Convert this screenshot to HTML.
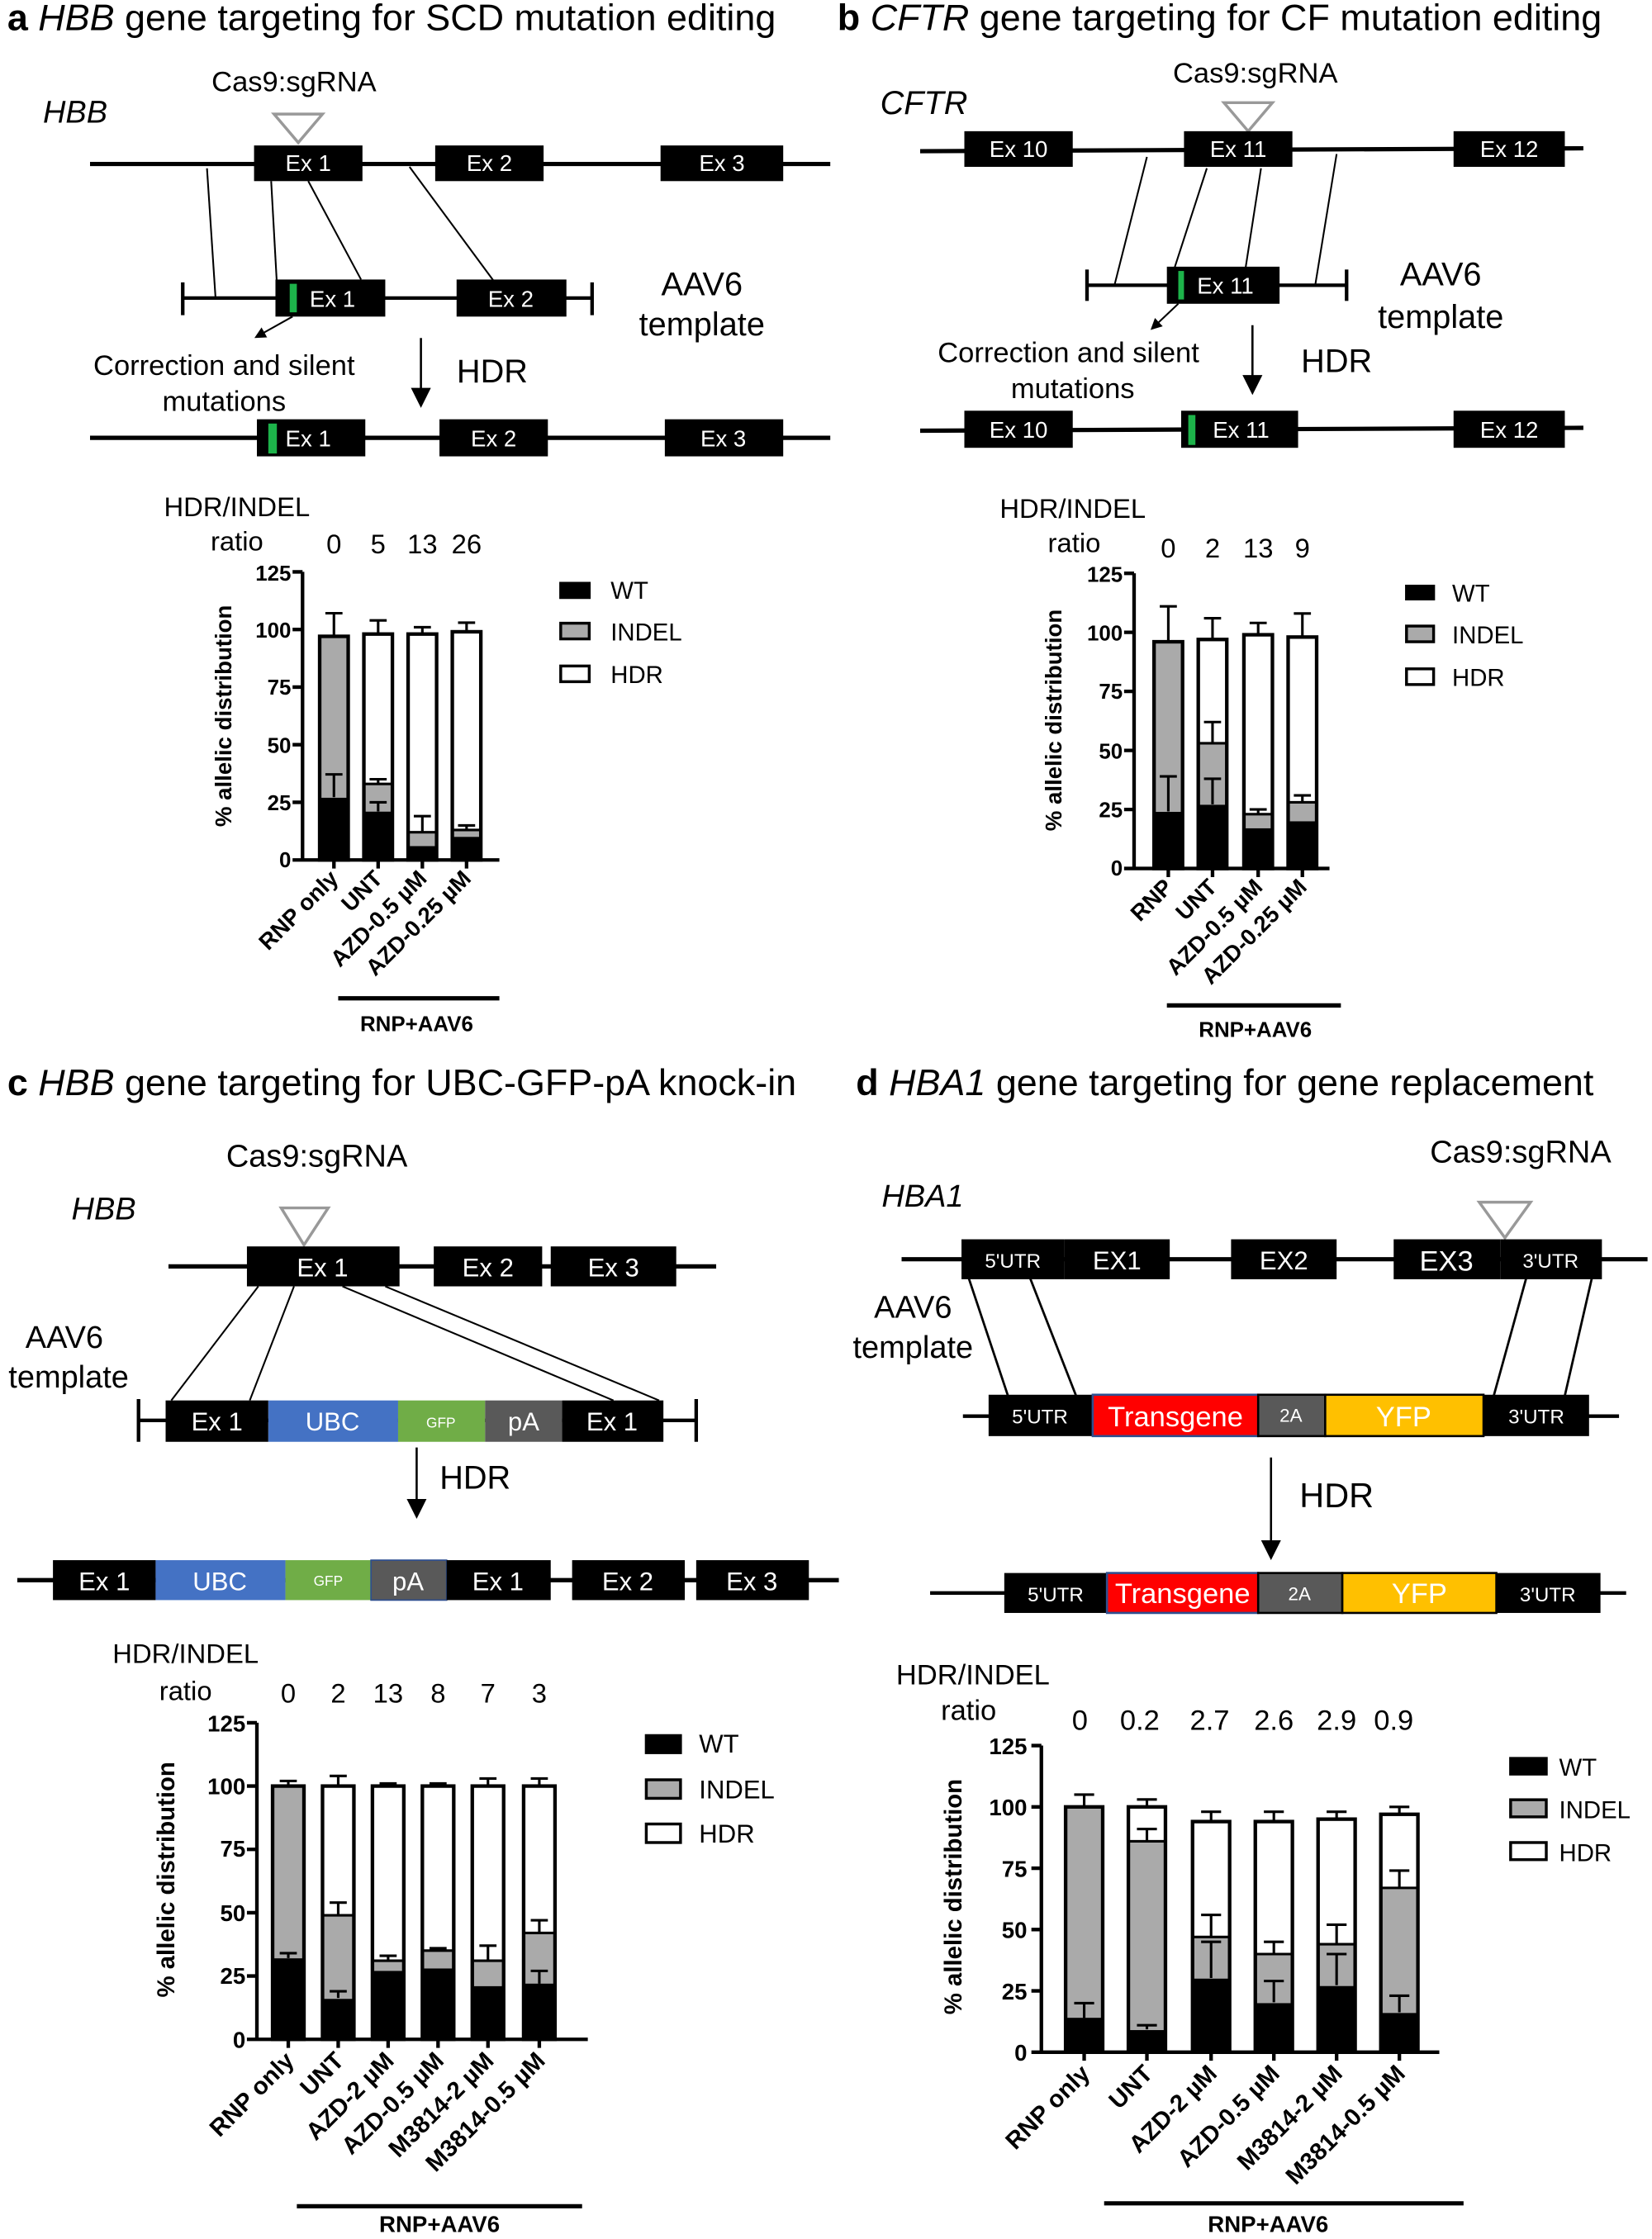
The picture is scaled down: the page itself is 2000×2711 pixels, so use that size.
<!DOCTYPE html>
<html><head><meta charset="utf-8"><style>
html,body{margin:0;padding:0;background:#fff}
svg{display:block}
text{font-family:"Liberation Sans",sans-serif}
.t{font-size:26px}
.w{fill:#fff;text-anchor:middle}
.m{font-size:20px;text-anchor:middle}
.tk{font-weight:bold;text-anchor:end}
.xl{font-weight:bold;text-anchor:end}
.lg{font-size:17px}
.r{font-size:19px;text-anchor:middle}
.ln{stroke:#000;stroke-width:1.2}
.ax{stroke:#000;stroke-width:2.5;fill:none}
.bo{fill:none;stroke:#000;stroke-width:2.5}
.e{stroke:#000;stroke-width:1.8;fill:none}
</style></head><body>
<svg width="2000" height="2711" viewBox="0 0 1158 1570" xmlns="http://www.w3.org/2000/svg">
<defs><marker id="ah" markerWidth="8" markerHeight="8" refX="6" refY="4" orient="auto" markerUnits="userSpaceOnUse"><path d="M0,0 L8,4 L0,8z"/></marker>
<marker id="ah2" markerWidth="14" markerHeight="14" refX="12" refY="7" orient="auto" markerUnits="userSpaceOnUse"><path d="M0,0 L14,7 L0,14z"/></marker></defs>

<!-- ===== Panel a ===== -->
<text x="5" y="21" class="t"><tspan font-weight="bold">a</tspan>  <tspan font-style="italic">HBB</tspan> gene targeting for SCD mutation editing</text>
<text x="206" y="64" class="m">Cas9:sgRNA</text>
<text x="30" y="86" font-size="22" font-style="italic">HBB</text>
<polygon points="192,80 226,80 209,100" fill="none" stroke="#999" stroke-width="2"/>
<line x1="63" y1="115" x2="582" y2="115" stroke="#000" stroke-width="3"/>
<g style="font-size:16px">
<rect x="178" y="102" width="76" height="25"/><text x="216" y="120" class="w">Ex 1</text>
<rect x="305" y="102" width="76" height="25"/><text x="343" y="120" class="w">Ex 2</text>
<rect x="463" y="102" width="86" height="25"/><text x="506" y="120" class="w">Ex 3</text>
</g>
<line x1="145" y1="118" x2="151" y2="209" class="ln"/>
<line x1="190" y1="127" x2="194" y2="199" class="ln"/>
<line x1="216" y1="127" x2="253" y2="196" class="ln"/>
<line x1="287" y1="117" x2="346" y2="197" class="ln"/>
<line x1="128" y1="209" x2="415" y2="209" stroke="#000" stroke-width="2.5"/>
<line x1="128" y1="198" x2="128" y2="221" stroke="#000" stroke-width="2.5"/>
<line x1="415" y1="198" x2="415" y2="221" stroke="#000" stroke-width="2.5"/>
<g style="font-size:16px">
<rect x="193" y="196" width="77" height="26"/><rect x="203" y="199" width="5" height="20" fill="#1db34a"/><text x="233" y="215" class="w">Ex 1</text>
<rect x="320" y="196" width="77" height="26"/><text x="358" y="215" class="w">Ex 2</text>
</g>
<line x1="205" y1="222" x2="180" y2="236" stroke="#000" stroke-width="1.2" marker-end="url(#ah)"/>
<text x="157" y="263" class="m">Correction and silent</text>
<text x="157" y="288" class="m">mutations</text>
<text x="492" y="207" font-size="23" text-anchor="middle">AAV6</text>
<text x="492" y="235" font-size="23" text-anchor="middle">template</text>
<line x1="295" y1="237" x2="295" y2="284" stroke="#000" stroke-width="1.5" marker-end="url(#ah2)"/>
<text x="345" y="268" font-size="23" text-anchor="middle">HDR</text>
<line x1="63" y1="307" x2="582" y2="307" stroke="#000" stroke-width="3"/>
<g style="font-size:16px">
<rect x="180" y="294" width="76" height="26"/><rect x="188" y="297" width="6" height="21" fill="#1db34a"/><text x="216" y="313" class="w">Ex 1</text>
<rect x="308" y="294" width="76" height="26"/><text x="346" y="313" class="w">Ex 2</text>
<rect x="466" y="294" width="83" height="26"/><text x="507" y="313" class="w">Ex 3</text>
</g>

<text x="166" y="362" class="r">HDR/INDEL</text><text x="166" y="386" class="r">ratio</text>
<text x="234" y="388" class="r">0</text><text x="265" y="388" class="r">5</text><text x="296" y="388" class="r">13</text><text x="327" y="388" class="r">26</text>
<text transform="translate(162,502) rotate(-90)" font-size="16" font-weight="bold" text-anchor="middle">% allelic distribution</text>
<g class="tk" style="font-size:15px"><text x="204" y="407">125</text><text x="204" y="447">100</text><text x="204" y="487">75</text><text x="204" y="528">50</text><text x="204" y="568">25</text><text x="204" y="608">0</text></g>
<path class="ax" d="M212,401 V603 H350 M205,401 H212 M205,441.4 H212 M205,481.8 H212 M205,522.2 H212 M205,562.6 H212 M205,603 H212 M234,603 V609 M265,603 V609 M296,603 V609 M327,603 V609"/>
<g>
<rect x="224" y="446.2" width="20" height="156.8" fill="#aaa"/><rect x="224" y="559.4" width="20" height="43.6"/><rect x="224" y="446.2" width="20" height="156.8" class="bo"/>
<path class="e" d="M234,446 V430 M228,430 H240 M234,559 V543 M228,543 H240"/>
<rect x="255" y="444.6" width="20" height="158.4" fill="#fff"/><rect x="255" y="549.7" width="20" height="19.4" fill="#aaa"/><rect x="255" y="569.1" width="20" height="33.9"/><rect x="255" y="444.6" width="20" height="158.4" class="bo"/><line x1="255" y1="549.7" x2="275" y2="549.7" class="e"/>
<path class="e" d="M265,445 V435 M259,435 H271 M265,549 V546 M259,546.4 H271 M265,569 V562.6 M259,562.6 H271"/>
<rect x="286" y="444.6" width="20" height="158.4" fill="#fff"/><rect x="286" y="583.6" width="20" height="9.7" fill="#aaa"/><rect x="286" y="593.3" width="20" height="9.7"/><rect x="286" y="444.6" width="20" height="158.4" class="bo"/><line x1="286" y1="583.6" x2="306" y2="583.6" class="e"/>
<path class="e" d="M296,445 V439.8 M290,439.8 H302 M296,583 V572.3 M290,572.3 H302"/>
<rect x="317" y="443" width="20" height="160" fill="#fff"/><rect x="317" y="582" width="20" height="4.8" fill="#aaa"/><rect x="317" y="586.8" width="20" height="16.2"/><rect x="317" y="443" width="20" height="160" class="bo"/><line x1="317" y1="582" x2="337" y2="582" class="e"/>
<path class="e" d="M327,443 V436.6 M321,436.6 H333 M327,582 V578.8 M321,578.8 H333"/>
</g>
<g class="xl" style="font-size:16px">
<text transform="translate(238,617) rotate(-45)">RNP only</text>
<text transform="translate(269,617) rotate(-45)">UNT</text>
<text transform="translate(300,617) rotate(-45)">AZD-0.5 µM</text>
<text transform="translate(331,617) rotate(-45)">AZD-0.25 µM</text>
</g>
<line x1="237" y1="700" x2="350" y2="700" stroke="#000" stroke-width="3"/>
<text x="292" y="723" font-size="15" font-weight="bold" text-anchor="middle">RNP+AAV6</text>
<rect x="392" y="408" width="22" height="12"/><text x="428" y="420" class="lg">WT</text>
<rect x="393" y="437" width="20" height="11" fill="#aaa" stroke="#000" stroke-width="2"/><text x="428" y="449" class="lg">INDEL</text>
<rect x="393" y="467" width="20" height="11" fill="#fff" stroke="#000" stroke-width="2"/><text x="428" y="479" class="lg">HDR</text>

<!-- ===== Panel b ===== -->
<text x="587" y="21" class="t"><tspan font-weight="bold">b</tspan> <tspan font-style="italic">CFTR</tspan> gene targeting for CF mutation editing</text>
<text x="880" y="58" class="m">Cas9:sgRNA</text>
<text x="617" y="80" font-size="23" font-style="italic">CFTR</text>
<polygon points="858,72 892,72 875,92" fill="none" stroke="#999" stroke-width="2"/>
<line x1="645" y1="106" x2="1110" y2="104" stroke="#000" stroke-width="3"/>
<g style="font-size:16px">
<rect x="676" y="92" width="76" height="25"/><text x="714" y="110" class="w">Ex 10</text>
<rect x="830" y="92" width="76" height="25"/><text x="868" y="110" class="w">Ex 11</text>
<rect x="1019" y="92" width="78" height="25"/><text x="1058" y="110" class="w">Ex 12</text>
</g>
<line x1="804" y1="110" x2="781" y2="201" class="ln"/>
<line x1="846" y1="118" x2="823" y2="189" class="ln"/>
<line x1="884" y1="118" x2="873" y2="189" class="ln"/>
<line x1="937" y1="108" x2="922" y2="200" class="ln"/>
<line x1="762" y1="200" x2="944" y2="200" stroke="#000" stroke-width="2.5"/>
<line x1="762" y1="189" x2="762" y2="211" stroke="#000" stroke-width="2.5"/>
<line x1="944" y1="189" x2="944" y2="211" stroke="#000" stroke-width="2.5"/>
<rect x="818" y="187" width="79" height="26"/><rect x="826" y="190" width="4" height="20" fill="#1db34a"/><text x="859" y="206" class="w" style="font-size:16px">Ex 11</text>
<line x1="826" y1="213" x2="808" y2="230" stroke="#000" stroke-width="1.2" marker-end="url(#ah)"/>
<text x="749" y="254" class="m">Correction and silent</text>
<text x="752" y="279" class="m">mutations</text>
<text x="1010" y="200" font-size="23" text-anchor="middle">AAV6</text>
<text x="1010" y="230" font-size="23" text-anchor="middle">template</text>
<line x1="878" y1="228" x2="878" y2="275" stroke="#000" stroke-width="1.5" marker-end="url(#ah2)"/>
<text x="937" y="261" font-size="23" text-anchor="middle">HDR</text>
<line x1="645" y1="302" x2="1110" y2="300" stroke="#000" stroke-width="3"/>
<g style="font-size:16px">
<rect x="676" y="288" width="76" height="26"/><text x="714" y="307" class="w">Ex 10</text>
<rect x="828" y="288" width="82" height="26"/><rect x="833" y="291" width="5" height="21" fill="#1db34a"/><text x="870" y="307" class="w">Ex 11</text>
<rect x="1019" y="288" width="78" height="26"/><text x="1058" y="307" class="w">Ex 12</text>
</g>

<text x="752" y="363" class="r">HDR/INDEL</text><text x="753" y="387" class="r">ratio</text>
<text x="819" y="391" class="r">0</text><text x="850" y="391" class="r">2</text><text x="882" y="391" class="r">13</text><text x="913" y="391" class="r">9</text>
<text transform="translate(744,505) rotate(-90)" font-size="16" font-weight="bold" text-anchor="middle">% allelic distribution</text>
<g class="tk" style="font-size:15px"><text x="787" y="408">125</text><text x="787" y="449">100</text><text x="787" y="490">75</text><text x="787" y="532">50</text><text x="787" y="573">25</text><text x="787" y="614">0</text></g>
<path class="ax" d="M795,402 V609 H932 M788,402 H795 M788,443.4 H795 M788,484.8 H795 M788,526.2 H795 M788,567.6 H795 M788,609 H795 M819,609 V615 M850,609 V615 M882,609 V615 M913,609 V615"/>
<g>
<rect x="809" y="450" width="20" height="159" fill="#aaa"/><rect x="809" y="569.3" width="20" height="39.7"/><rect x="809" y="450" width="20" height="159" class="bo"/>
<path class="e" d="M819,450 V425.2 M813,425.2 H825 M819,569 V544.4 M813,544.4 H825"/>
<rect x="840" y="448.4" width="20" height="160.6" fill="#fff"/><rect x="840" y="521.2" width="20" height="43.1" fill="#aaa"/><rect x="840" y="564.3" width="20" height="44.7"/><rect x="840" y="448.4" width="20" height="160.6" class="bo"/><line x1="840" y1="521.2" x2="860" y2="521.2" class="e"/>
<path class="e" d="M850,448 V433.5 M844,433.5 H856 M850,521 V506.3 M844,506.3 H856 M850,564 V546.1 M844,546.1 H856"/>
<rect x="872" y="445.1" width="20" height="163.9" fill="#fff"/><rect x="872" y="570.9" width="20" height="9.9" fill="#aaa"/><rect x="872" y="580.8" width="20" height="28.2"/><rect x="872" y="445.1" width="20" height="163.9" class="bo"/><line x1="872" y1="570.9" x2="892" y2="570.9" class="e"/>
<path class="e" d="M882,445 V436.8 M876,436.8 H888 M882,571 V567.6 M876,567.6 H888"/>
<rect x="903" y="446.7" width="20" height="162.3" fill="#fff"/><rect x="903" y="562.6" width="20" height="13.3" fill="#aaa"/><rect x="903" y="575.9" width="20" height="33.1"/><rect x="903" y="446.7" width="20" height="162.3" class="bo"/><line x1="903" y1="562.6" x2="923" y2="562.6" class="e"/>
<path class="e" d="M913,447 V430.2 M907,430.2 H919 M913,562 V557.7 M907,557.7 H919"/>
</g>
<g class="xl" style="font-size:16px">
<text transform="translate(823,623) rotate(-45)">RNP</text>
<text transform="translate(854,623) rotate(-45)">UNT</text>
<text transform="translate(886,623) rotate(-45)">AZD-0.5 µM</text>
<text transform="translate(917,623) rotate(-45)">AZD-0.25 µM</text>
</g>
<line x1="818" y1="705" x2="940" y2="705" stroke="#000" stroke-width="3"/>
<text x="880" y="727" font-size="15" font-weight="bold" text-anchor="middle">RNP+AAV6</text>
<rect x="985" y="410" width="21" height="11"/><text x="1018" y="422" class="lg">WT</text>
<rect x="986" y="439" width="19" height="11" fill="#aaa" stroke="#000" stroke-width="2"/><text x="1018" y="451" class="lg">INDEL</text>
<rect x="986" y="469" width="19" height="11" fill="#fff" stroke="#000" stroke-width="2"/><text x="1018" y="481" class="lg">HDR</text>

<!-- ===== Panel c ===== -->
<text x="5" y="768" class="t"><tspan font-weight="bold">c</tspan>  <tspan font-style="italic">HBB</tspan> gene targeting for UBC-GFP-pA knock-in</text>
<text x="222" y="818" font-size="22" text-anchor="middle">Cas9:sgRNA</text>
<text x="50" y="855" font-size="22" font-style="italic">HBB</text>
<polygon points="197,847 230,847 213,873" fill="none" stroke="#999" stroke-width="2"/>
<line x1="118" y1="888" x2="502" y2="888" stroke="#000" stroke-width="3"/>
<g style="font-size:18px">
<rect x="173" y="874" width="107" height="28"/><text x="226" y="895" class="w">Ex 1</text>
<rect x="304" y="874" width="76" height="28"/><text x="342" y="895" class="w">Ex 2</text>
<rect x="386" y="874" width="88" height="28"/><text x="430" y="895" class="w">Ex 3</text>
</g>
<line x1="181" y1="902" x2="120" y2="982" class="ln"/>
<line x1="206" y1="902" x2="175" y2="982" class="ln"/>
<line x1="240" y1="902" x2="430" y2="982" class="ln"/>
<line x1="270" y1="902" x2="462" y2="982" class="ln"/>
<text x="45" y="945" font-size="22" text-anchor="middle">AAV6</text>
<text x="48" y="973" font-size="22" text-anchor="middle">template</text>
<line x1="97" y1="996" x2="488" y2="996" stroke="#000" stroke-width="2.5"/>
<line x1="97" y1="981" x2="97" y2="1011" stroke="#000" stroke-width="2.5"/>
<line x1="488" y1="981" x2="488" y2="1011" stroke="#000" stroke-width="2.5"/>
<g style="font-size:18px">
<rect x="116" y="982" width="72" height="29"/><text x="152" y="1003" class="w">Ex 1</text>
<rect x="188" y="982" width="91" height="29" fill="#4472c4"/><text x="233" y="1003" class="w">UBC</text>
<rect x="279" y="982" width="61" height="29" fill="#70ad47"/><text x="309" y="1001" class="w" style="font-size:10px">GFP</text>
<rect x="340" y="982" width="54" height="29" fill="#595959"/><text x="367" y="1003" class="w">pA</text>
<rect x="394" y="982" width="71" height="29"/><text x="429" y="1003" class="w">Ex 1</text>
</g>
<line x1="292" y1="1015" x2="292" y2="1063" stroke="#000" stroke-width="1.5" marker-end="url(#ah2)"/>
<text x="333" y="1044" font-size="23" text-anchor="middle">HDR</text>
<line x1="12" y1="1108" x2="588" y2="1108" stroke="#000" stroke-width="3"/>
<g style="font-size:18px">
<rect x="37" y="1094" width="72" height="28"/><text x="73" y="1115" class="w">Ex 1</text>
<rect x="109" y="1094" width="91" height="28" fill="#4472c4"/><text x="154" y="1115" class="w">UBC</text>
<rect x="200" y="1094" width="60" height="28" fill="#70ad47"/><text x="230" y="1112" class="w" style="font-size:10px">GFP</text>
<rect x="260" y="1094" width="53" height="28" fill="#595959" stroke="#2f4f8f" stroke-width="1"/><text x="286" y="1115" class="w">pA</text>
<rect x="313" y="1094" width="73" height="28"/><text x="349" y="1115" class="w">Ex 1</text>
<rect x="401" y="1094" width="79" height="28"/><text x="440" y="1115" class="w">Ex 2</text>
<rect x="488" y="1094" width="79" height="28"/><text x="527" y="1115" class="w">Ex 3</text>
</g>

<text x="130" y="1166" class="r">HDR/INDEL</text><text x="130" y="1192" class="r">ratio</text>
<text x="202" y="1194" class="r">0</text><text x="237" y="1194" class="r">2</text><text x="272" y="1194" class="r">13</text><text x="307" y="1194" class="r">8</text><text x="342" y="1194" class="r">7</text><text x="378" y="1194" class="r">3</text>
<text transform="translate(122,1318) rotate(-90)" font-size="17" font-weight="bold" text-anchor="middle">% allelic distribution</text>
<g class="tk" style="font-size:16px"><text x="172" y="1214">125</text><text x="172" y="1258">100</text><text x="172" y="1302">75</text><text x="172" y="1347">50</text><text x="172" y="1391">25</text><text x="172" y="1436">0</text></g>
<path class="ax" d="M180,1208 V1430 H412 M173,1208 H180 M173,1252.4 H180 M173,1296.8 H180 M173,1341.2 H180 M173,1385.6 H180 M173,1430 H180 M202,1430 V1436 M237,1430 V1436 M272,1430 V1436 M307,1430 V1436 M342,1430 V1436 M378,1430 V1436"/>
<g>
<rect x="191" y="1252.4" width="22" height="177.6" fill="#aaa"/><rect x="191" y="1373.2" width="22" height="56.8"/><rect x="191" y="1252.4" width="22" height="177.6" class="bo"/>
<path class="e" d="M202,1252 V1248.8 M196,1248.8 H208 M202,1373 V1369.6 M196,1369.6 H208"/>
<rect x="226" y="1252.4" width="22" height="177.6" fill="#fff"/><rect x="226" y="1343" width="22" height="58.6" fill="#aaa"/><rect x="226" y="1401.6" width="22" height="28.4"/><rect x="226" y="1252.4" width="22" height="177.6" class="bo"/><line x1="226" y1="1343" x2="248" y2="1343" class="e"/>
<path class="e" d="M237,1252 V1245.3 M231,1245.3 H243 M237,1343 V1334.1 M231,1334.1 H243 M237,1401 V1396.3 M231,1396.3 H243"/>
<rect x="261" y="1252.4" width="22" height="177.6" fill="#fff"/><rect x="261" y="1374.9" width="22" height="7.1" fill="#aaa"/><rect x="261" y="1382" width="22" height="48"/><rect x="261" y="1252.4" width="22" height="177.6" class="bo"/><line x1="261" y1="1374.9" x2="283" y2="1374.9" class="e"/>
<path class="e" d="M272,1252 V1250.6 M266,1250.6 H278 M272,1375 V1371.4 M266,1371.4 H278"/>
<rect x="296" y="1252.4" width="22" height="177.6" fill="#fff"/><rect x="296" y="1367.8" width="22" height="12.5" fill="#aaa"/><rect x="296" y="1380.3" width="22" height="49.7"/><rect x="296" y="1252.4" width="22" height="177.6" class="bo"/><line x1="296" y1="1367.8" x2="318" y2="1367.8" class="e"/>
<path class="e" d="M307,1252 V1250.6 M301,1250.6 H313 M307,1368 V1366.1 M301,1366.1 H313"/>
<rect x="331" y="1252.4" width="22" height="177.6" fill="#fff"/><rect x="331" y="1374.9" width="22" height="17.8" fill="#aaa"/><rect x="331" y="1392.7" width="22" height="37.3"/><rect x="331" y="1252.4" width="22" height="177.6" class="bo"/><line x1="331" y1="1374.9" x2="353" y2="1374.9" class="e"/>
<path class="e" d="M342,1252 V1247.1 M336,1247.1 H348 M342,1375 V1364.3 M336,1364.3 H348"/>
<rect x="367" y="1252.4" width="22" height="177.6" fill="#fff"/><rect x="367" y="1355.4" width="22" height="35.5" fill="#aaa"/><rect x="367" y="1390.9" width="22" height="39.1"/><rect x="367" y="1252.4" width="22" height="177.6" class="bo"/><line x1="367" y1="1355.4" x2="389" y2="1355.4" class="e"/>
<path class="e" d="M378,1252 V1247.1 M372,1247.1 H384 M378,1355 V1346.5 M372,1346.5 H384 M378,1391 V1382 M372,1382 H384"/>
</g>
<g class="xl" style="font-size:17px">
<text transform="translate(207,1446) rotate(-45)">RNP only</text>
<text transform="translate(242,1446) rotate(-45)">UNT</text>
<text transform="translate(277,1446) rotate(-45)">AZD-2 µM</text>
<text transform="translate(312,1446) rotate(-45)">AZD-0.5 µM</text>
<text transform="translate(347,1446) rotate(-45)">M3814-2 µM</text>
<text transform="translate(383,1446) rotate(-45)">M3814-0.5 µM</text>
</g>
<line x1="208" y1="1547" x2="408" y2="1547" stroke="#000" stroke-width="3"/>
<text x="308" y="1565" font-size="16" font-weight="bold" text-anchor="middle">RNP+AAV6</text>
<rect x="452" y="1216" width="26" height="14"/><text x="490" y="1229" font-size="18">WT</text>
<rect x="453" y="1248" width="24" height="13" fill="#aaa" stroke="#000" stroke-width="2"/><text x="490" y="1261" font-size="18">INDEL</text>
<rect x="453" y="1279" width="24" height="13" fill="#fff" stroke="#000" stroke-width="2"/><text x="490" y="1292" font-size="18">HDR</text>

<!-- ===== Panel d ===== -->
<text x="600" y="768" class="t"><tspan font-weight="bold">d</tspan>  <tspan font-style="italic">HBA1</tspan> gene targeting for gene replacement</text>
<text x="1066" y="815" font-size="22" text-anchor="middle">Cas9:sgRNA</text>
<text x="618" y="846" font-size="22" font-style="italic">HBA1</text>
<polygon points="1037,843 1073,843 1055,868" fill="none" stroke="#999" stroke-width="2"/>
<line x1="632" y1="883" x2="1155" y2="883" stroke="#000" stroke-width="3"/>
<rect x="674" y="869" width="72" height="28"/><text x="710" y="889" class="w" style="font-size:14px">5'UTR</text>
<rect x="746" y="869" width="74" height="28"/><text x="783" y="890" class="w" style="font-size:18px">EX1</text>
<rect x="863" y="869" width="74" height="28"/><text x="900" y="890" class="w" style="font-size:18px">EX2</text>
<rect x="977" y="869" width="75" height="28"/><text x="1014" y="891" class="w" style="font-size:20px">EX3</text>
<rect x="1052" y="869" width="71" height="28"/><text x="1087" y="889" class="w" style="font-size:14px">3'UTR</text>
<line x1="679" y1="896" x2="708" y2="983" stroke="#000" stroke-width="1.6"/>
<line x1="722" y1="896" x2="756" y2="983" stroke="#000" stroke-width="1.6"/>
<line x1="1070" y1="896" x2="1046" y2="983" stroke="#000" stroke-width="1.6"/>
<line x1="1116" y1="896" x2="1096" y2="983" stroke="#000" stroke-width="1.6"/>
<text x="640" y="924" font-size="22" text-anchor="middle">AAV6</text>
<text x="640" y="952" font-size="22" text-anchor="middle">template</text>
<line x1="675" y1="993" x2="1135" y2="993" stroke="#000" stroke-width="2.5"/>
<rect x="693" y="978" width="73" height="29"/><text x="729" y="998" class="w" style="font-size:14px">5'UTR</text>
<rect x="766" y="978" width="116" height="29" fill="#ff0000" stroke="#2f4f8f" stroke-width="1.5"/><text x="824" y="1000" class="w" style="font-size:20px">Transgene</text>
<rect x="882" y="978" width="47" height="29" fill="#595959" stroke="#000" stroke-width="1.5"/><text x="905" y="997" class="w" style="font-size:13px">2A</text>
<rect x="929" y="978" width="111" height="29" fill="#ffc000" stroke="#000" stroke-width="1.5"/><text x="984" y="1000" class="w" style="font-size:20px">YFP</text>
<rect x="1040" y="978" width="74" height="29"/><text x="1077" y="998" class="w" style="font-size:14px">3'UTR</text>
<line x1="891" y1="1022" x2="891" y2="1092" stroke="#000" stroke-width="1.5" marker-end="url(#ah2)"/>
<text x="937" y="1057" font-size="24" text-anchor="middle">HDR</text>
<line x1="652" y1="1117" x2="1140" y2="1117" stroke="#000" stroke-width="2.5"/>
<rect x="704" y="1103" width="72" height="28"/><text x="740" y="1123" class="w" style="font-size:14px">5'UTR</text>
<rect x="776" y="1103" width="106" height="28" fill="#ff0000" stroke="#2f4f8f" stroke-width="1.5"/><text x="829" y="1124" class="w" style="font-size:20px">Transgene</text>
<rect x="882" y="1103" width="59" height="28" fill="#595959" stroke="#000" stroke-width="1.5"/><text x="911" y="1122" class="w" style="font-size:13px">2A</text>
<rect x="941" y="1103" width="108" height="28" fill="#ffc000" stroke="#000" stroke-width="1.5"/><text x="995" y="1124" class="w" style="font-size:20px">YFP</text>
<rect x="1049" y="1103" width="73" height="28"/><text x="1085" y="1123" class="w" style="font-size:14px">3'UTR</text>

<text x="682" y="1181" class="r" style="font-size:20px">HDR/INDEL</text><text x="679" y="1206" class="r" style="font-size:20px">ratio</text>
<g class="r" style="font-size:20px"><text x="757" y="1213">0</text><text x="799" y="1213">0.2</text><text x="848" y="1213">2.7</text><text x="893" y="1213">2.6</text><text x="937" y="1213">2.9</text><text x="977" y="1213">0.9</text></g>
<text transform="translate(674,1330) rotate(-90)" font-size="17" font-weight="bold" text-anchor="middle">% allelic distribution</text>
<g class="tk" style="font-size:16px"><text x="720" y="1230">125</text><text x="720" y="1273">100</text><text x="720" y="1316">75</text><text x="720" y="1359">50</text><text x="720" y="1402">25</text><text x="720" y="1445">0</text></g>
<path class="ax" d="M730,1224 V1439 H1009 M723,1224 H730 M723,1267 H730 M723,1310 H730 M723,1353 H730 M723,1396 H730 M723,1439 H730 M760,1439 V1445 M804,1439 V1445 M849,1439 V1445 M893,1439 V1445 M937,1439 V1445 M981,1439 V1445"/>
<g>
<rect x="747" y="1267" width="26" height="172" fill="#aaa"/><rect x="747" y="1414.9" width="26" height="24.1"/><rect x="747" y="1267" width="26" height="172" class="bo"/>
<path class="e" d="M760,1267 V1258.4 M753,1258.4 H767 M760,1415 V1404.6 M753,1404.6 H767"/>
<rect x="791" y="1267" width="26" height="172" fill="#fff"/><rect x="791" y="1291.1" width="26" height="132.4" fill="#aaa"/><rect x="791" y="1423.5" width="26" height="15.5"/><rect x="791" y="1267" width="26" height="172" class="bo"/><line x1="791" y1="1291.1" x2="817" y2="1291.1" class="e"/>
<path class="e" d="M804,1267 V1261.8 M797,1261.8 H811 M804,1291 V1282.5 M797,1282.5 H811 M804,1423 V1420.1 M797,1420.1 H811"/>
<rect x="836" y="1277.3" width="26" height="161.7" fill="#fff"/><rect x="836" y="1358.2" width="26" height="29.2" fill="#aaa"/><rect x="836" y="1387.4" width="26" height="51.6"/><rect x="836" y="1277.3" width="26" height="161.7" class="bo"/><line x1="836" y1="1358.2" x2="862" y2="1358.2" class="e"/>
<path class="e" d="M849,1277 V1270.4 M842,1270.4 H856 M849,1358 V1342.7 M842,1342.7 H856 M849,1387 V1361.6 M842,1361.6 H856"/>
<rect x="880" y="1277.3" width="26" height="161.7" fill="#fff"/><rect x="880" y="1370.2" width="26" height="34.4" fill="#aaa"/><rect x="880" y="1404.6" width="26" height="34.4"/><rect x="880" y="1277.3" width="26" height="161.7" class="bo"/><line x1="880" y1="1370.2" x2="906" y2="1370.2" class="e"/>
<path class="e" d="M893,1277 V1270.4 M886,1270.4 H900 M893,1370 V1361.6 M886,1361.6 H900 M893,1404 V1389.1 M886,1389.1 H900"/>
<rect x="924" y="1275.6" width="26" height="163.4" fill="#fff"/><rect x="924" y="1363.3" width="26" height="29.3" fill="#aaa"/><rect x="924" y="1392.6" width="26" height="46.4"/><rect x="924" y="1275.6" width="26" height="163.4" class="bo"/><line x1="924" y1="1363.3" x2="950" y2="1363.3" class="e"/>
<path class="e" d="M937,1276 V1270.4 M930,1270.4 H944 M937,1363 V1349.6 M930,1349.6 H944 M937,1392 V1370.2 M930,1370.2 H944"/>
<rect x="968" y="1272.2" width="26" height="166.8" fill="#fff"/><rect x="968" y="1323.8" width="26" height="87.7" fill="#aaa"/><rect x="968" y="1411.5" width="26" height="27.5"/><rect x="968" y="1272.2" width="26" height="166.8" class="bo"/><line x1="968" y1="1323.8" x2="994" y2="1323.8" class="e"/>
<path class="e" d="M981,1272 V1267 M974,1267 H988 M981,1324 V1311.7 M974,1311.7 H988 M981,1411 V1399.4 M974,1399.4 H988"/>
</g>
<g class="xl" style="font-size:17px">
<text transform="translate(765,1455) rotate(-45)">RNP only</text>
<text transform="translate(809,1455) rotate(-45)">UNT</text>
<text transform="translate(854,1455) rotate(-45)">AZD-2 µM</text>
<text transform="translate(898,1455) rotate(-45)">AZD-0.5 µM</text>
<text transform="translate(942,1455) rotate(-45)">M3814-2 µM</text>
<text transform="translate(986,1455) rotate(-45)">M3814-0.5 µM</text>
</g>
<line x1="774" y1="1545" x2="1026" y2="1545" stroke="#000" stroke-width="3"/>
<text x="889" y="1565" font-size="16" font-weight="bold" text-anchor="middle">RNP+AAV6</text>
<rect x="1058" y="1232" width="27" height="13"/><text x="1093" y="1245" font-size="17">WT</text>
<rect x="1059" y="1262" width="25" height="12" fill="#aaa" stroke="#000" stroke-width="2"/><text x="1093" y="1275" font-size="17">INDEL</text>
<rect x="1059" y="1292" width="25" height="12" fill="#fff" stroke="#000" stroke-width="2"/><text x="1093" y="1305" font-size="17">HDR</text>
</svg>
</body></html>
